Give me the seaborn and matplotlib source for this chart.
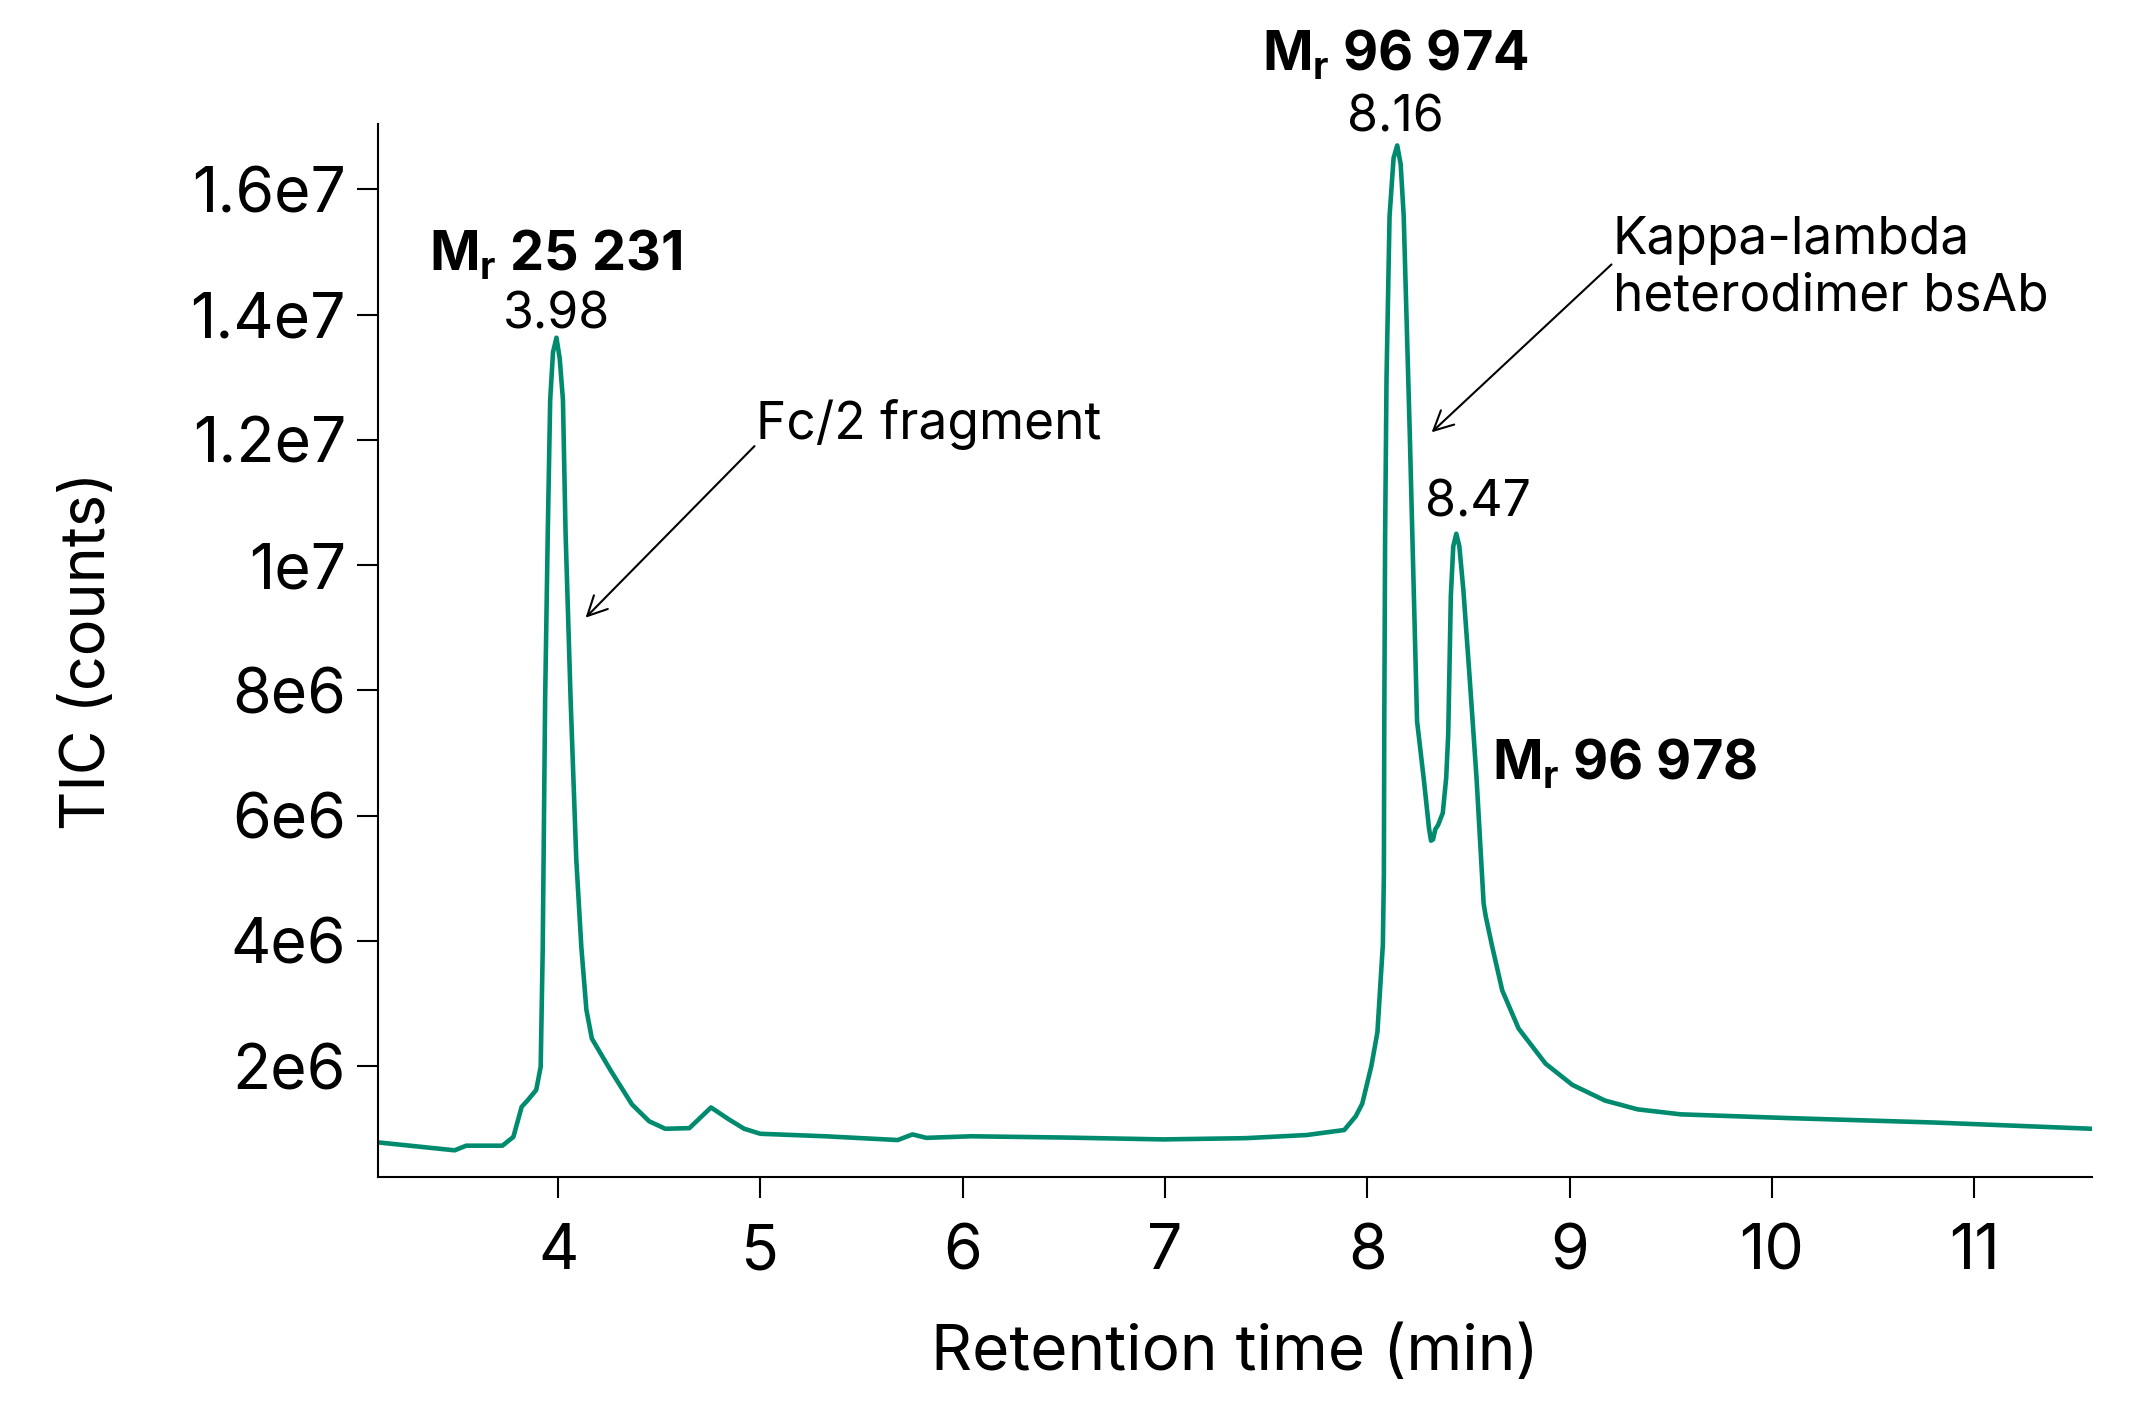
import numpy as np
import seaborn as sns
import matplotlib.pyplot as plt
import pandas as pd

# TIC trace (time in min, counts)
times = [3.117, 3.489, 3.546, 3.725, 3.779, 3.82, 3.851, 3.892, 3.914, 3.924, 3.936, 3.949,
         3.961, 3.975, 3.992, 4.008, 4.024, 4.037, 4.062, 4.09, 4.115, 4.14, 4.167, 4.26,
         4.365, 4.45, 4.53, 4.649, 4.756, 4.844, 4.92, 5.0, 5.32, 5.679, 5.752, 5.82,
         6.042, 6.5, 6.99, 7.4, 7.7, 7.886, 7.943, 7.975, 8.02, 8.05, 8.077, 8.082, 8.084,
         8.088, 8.095, 8.11, 8.13, 8.148, 8.165, 8.18, 8.21, 8.246, 8.28, 8.305, 8.315,
         8.325, 8.336, 8.35, 8.373, 8.39, 8.40, 8.413, 8.425, 8.44, 8.455, 8.475, 8.506,
         8.54, 8.575, 8.585, 8.616, 8.667, 8.748, 8.881, 9.014, 9.175, 9.336, 9.55, 10.086,
         10.8, 11.58]
tic = [0.78e6, 0.656e6, 0.73e6, 0.73e6, 0.87e6, 1.35e6, 1.46e6, 1.62e6, 1.99e6, 3.85e6,
       7.85e6, 10.51e6, 12.64e6, 13.4e6, 13.63e6, 13.3e6, 12.64e6, 10.52e6, 7.85e6, 5.3e6,
       3.9e6, 2.9e6, 2.44e6, 1.93e6, 1.39e6, 1.12e6, 1.0e6, 1.01e6, 1.34e6, 1.15e6,
       1.0e6, 0.92e6, 0.88e6, 0.82e6, 0.91e6, 0.855e6, 0.88e6, 0.86e6, 0.83e6, 0.85e6,
       0.9e6, 0.98e6, 1.2e6, 1.4e6, 2.0e6, 2.54e6, 3.94e6, 5.06e6, 7.5e6, 10.4e6,
       12.97e6, 15.57e6, 16.5e6, 16.7e6, 16.4e6, 15.57e6, 12.1e6, 7.51e6, 6.56e6, 5.8e6,
       5.6e6, 5.62e6, 5.78e6, 5.85e6, 6.04e6, 6.6e6, 7.3e6, 9.51e6, 10.3e6, 10.5e6,
       10.3e6, 9.6e6, 8.2e6, 6.6e6, 4.6e6, 4.4e6, 3.93e6, 3.21e6, 2.6e6, 2.04e6,
       1.7e6, 1.45e6, 1.31e6, 1.23e6, 1.17e6, 1.1e6, 1.0e6]

ytick_vals = [2e6, 4e6, 6e6, 8e6, 1e7, 1.2e7, 1.4e7, 1.6e7]
ytick_labels = ["2e6", "4e6", "6e6", "8e6", "1e7", "1.2e7", "1.4e7", "1.6e7"]
xtick_vals = [4, 5, 6, 7, 8, 9, 10, 11]

df = pd.DataFrame({"time": times, "tic": tic})

sns.set_style("ticks")
plt.rcParams['font.family'] = ['Inter', 'DejaVu Sans']
plt.rcParams['mathtext.fontset'] = 'custom'
plt.rcParams['mathtext.rm'] = 'Inter'
plt.rcParams['mathtext.bf'] = 'Inter:bold'
for k in ['text.color', 'axes.labelcolor', 'xtick.color', 'ytick.color']:
    plt.rcParams[k] = 'black'

green = "#008a6e"

fig = plt.figure(figsize=(21.54, 14.2), dpi=100)
ax = fig.add_axes([0.1755, 0.171, 0.7955, 0.742])
sns.lineplot(data=df, x="time", y="tic", sort=False, color=green, linewidth=3.3, ax=ax)

ax.set_xlim(3.11, 11.58)
ax.set_ylim(0.227e6, 1.705e7)
ax.set_xticks(xtick_vals)
ax.set_xticklabels([str(v) for v in xtick_vals])
ax.set_yticks(ytick_vals)
ax.set_yticklabels(ytick_labels)
ax.tick_params(axis="both", labelsize=45, length=15, width=1.5, color="black")
ax.tick_params(axis="x", pad=18)
ax.tick_params(axis="y", pad=8)
sns.despine(ax=ax)
for s in ["left", "bottom"]:
    ax.spines[s].set_linewidth(1.5)
    ax.spines[s].set_color("black")

ax.set_xlabel("Retention time (min)", fontsize=46, labelpad=30)
ax.set_ylabel("TIC (counts)", fontsize=44, labelpad=52)

# peak labels
bold = dict(fontsize=39, fontweight="bold", ha="center", va="baseline")
norm = dict(fontsize=36, ha="center", va="baseline")
ax.text(3.986, 14.71e6, r"$\mathbf{M_r}$ 25 231", **bold)
ax.text(3.993, 13.77e6, "3.98", **norm)
ax.text(8.141, 17.9e6, r"$\mathbf{M_r}$ 96 974", **bold)
ax.text(8.141, 16.93e6, "8.16", **norm)
ax.text(8.549, 10.78e6, "8.47", **norm)
ax.text(8.616, 6.59e6, r"$\mathbf{M_r}$ 96 978", fontsize=39, fontweight="bold",
        ha="left", va="baseline")

arrow = dict(arrowstyle="->", color="black", lw=1.5, mutation_scale=35, shrinkA=0, shrinkB=0)
ax.text(4.978, 12.01e6, "Fc/2 fragment", fontsize=37, ha="left", va="baseline")
ax.annotate("", xy=(4.136, 9.16e6), xytext=(4.971, 11.9e6), arrowprops=arrow)
ax.text(9.214, 14.07e6, "Kappa-lambda\nheterodimer bsAb", fontsize=37, ha="left",
        va="baseline", linespacing=1.2)
ax.annotate("", xy=(8.318, 12.12e6), xytext=(9.207, 14.8e6), arrowprops=arrow)

plt.savefig("out.png", dpi=100)
